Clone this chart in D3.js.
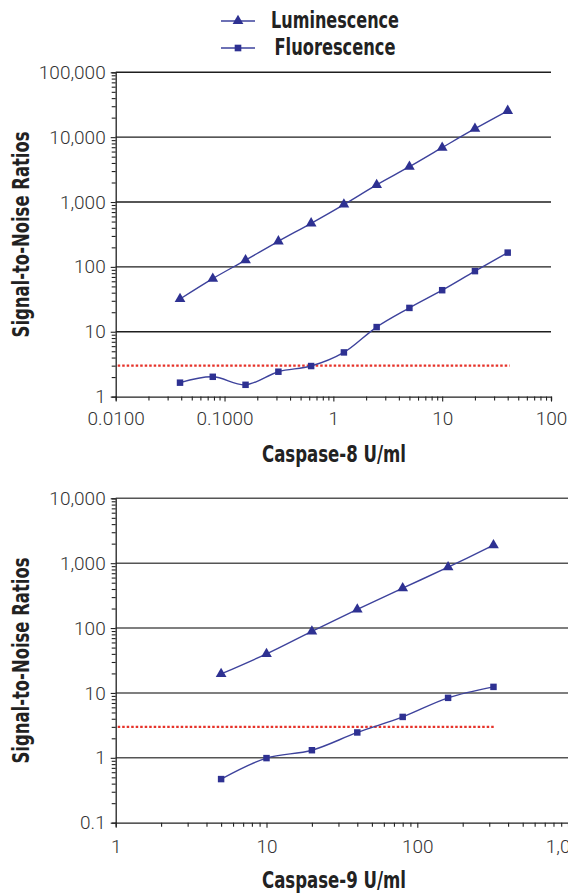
<!DOCTYPE html>
<html>
<head>
<meta charset="utf-8">
<script src="https://cdn.jsdelivr.net/npm/d3@7"></script>
<style>
  body { margin: 0; background: #fff; }
  .tick-label { font-family: Roboto, "Liberation Sans", sans-serif; font-weight: 300; font-size: 19px; fill: #333; }
  .title { font-family: "Liberation Sans Narrow", "DejaVu Sans Condensed", sans-serif; font-stretch: condensed; font-weight: bold; font-size: 23px; fill: #222; }
</style>
</head>
<body>
<script>
// caspase-8 panel
const c8Conc = [0.039, 0.078, 0.156, 0.3125, 0.625, 1.25, 2.5, 5, 10, 20, 40];
const c8Lum = [32, 66, 127, 248, 470, 915, 1840, 3500, 6900, 13500, 25500];
const c8Fluor = [1.64, 2.02, 1.52, 2.42, 2.96, 4.8, 11.8, 23.3, 43.7, 86, 166];
const c8XTicks = [0.01, 0.1, 1, 10, 100];
const c8XLabels = ['0.0100', '0.1000', '1', '10', '100'];
const c8YTicks = [1, 10, 100, 1000, 10000, 100000];
const c8YLabels = ['1', '10', '100', '1,000', '10,000', '100,000'];

// caspase-9 panel
const c9Conc = [5, 10, 20, 40, 80, 160, 320];
const c9Lum = [19.6, 40, 89, 194, 412, 868, 1890];
const c9Fluor = [0.47, 0.99, 1.31, 2.46, 4.27, 8.4, 12.4];
const c9XTicks = [1, 10, 100, 1000];
const c9XLabels = ['1', '10', '100', '1,000'];
const c9YTicks = [0.1, 1, 10, 100, 1000, 10000];
const c9YLabels = ['0.1', '1', '10', '100', '1,000', '10,000'];

const threshold = 3;
const seriesNames = ['Luminescence', 'Fluorescence'];

const blue = '#2e3192';
const lineBlue = '#3d429c';

const svg = d3.select('body').append('svg')
  .attr('width', 568)
  .attr('height', 893);

// legend
const legendWidths = [128, 121];
const legend = svg.append('g');
seriesNames.forEach((name, i) => {
  const y = 21 + i * 27;
  legend.append('line')
    .attr('x1', 221).attr('x2', 255)
    .attr('y1', y).attr('y2', y)
    .attr('stroke', lineBlue).attr('stroke-width', 1.3);
  legend.append('path')
    .attr('transform', `translate(238,${y})`)
    .attr('d', d3.symbol(i === 0 ? d3.symbolTriangle : d3.symbolSquare, i === 0 ? 50 : 44)())
    .attr('fill', blue);
  legend.append('text')
    .attr('class', 'title')
    .attr('x', 335).attr('y', y + 7)
    .attr('text-anchor', 'middle')
    .attr('textLength', legendWidths[i])
    .attr('lengthAdjust', 'spacingAndGlyphs')
    .text(name);
});

function minorTicks(domain) {
  const out = [];
  for (let d = domain[0]; d < domain[1] * 0.999; d *= 10) {
    for (let k = 2; k <= 9; k++) out.push(d * k);
  }
  return out;
}

function drawPanel({ xDomain, xRange, yDomain, yRange, xTicks, xLabels, yTicks, yLabels,
  conc, lum, fluor, gridColor, xTitle, titleY, labelY }) {
  const x = d3.scaleLog().domain(xDomain).range(xRange);
  const y = d3.scaleLog().domain(yDomain).range(yRange);
  const g = svg.append('g');

  // gridlines
  g.append('g')
    .selectAll('line')
    .data(yTicks.slice(1))
    .join('line')
    .attr('x1', xRange[0]).attr('x2', xRange[1])
    .attr('y1', d => y(d)).attr('y2', d => y(d))
    .attr('stroke', gridColor).attr('stroke-width', 1.4);

  // y axis
  const yMinor = g.append('g')
    .attr('transform', `translate(${xRange[0]},0)`)
    .call(d3.axisLeft(y).tickValues(minorTicks(yDomain)).tickSize(4).tickFormat(''));
  const yAxis = g.append('g')
    .attr('transform', `translate(${xRange[0]},0)`)
    .call(d3.axisLeft(y).tickValues(yTicks).tickSize(5).tickPadding(5)
      .tickFormat((d, i) => yLabels[i]));

  // x axis
  const xMinor = g.append('g')
    .attr('transform', `translate(0,${yRange[0]})`)
    .call(d3.axisBottom(x).tickValues(minorTicks(xDomain)).tickSize(4).tickFormat(''));
  const xAxis = g.append('g')
    .attr('transform', `translate(0,${yRange[0]})`)
    .call(d3.axisBottom(x).tickValues(xTicks).tickSize(5).tickPadding(10)
      .tickFormat((d, i) => xLabels[i]));

  [yMinor, yAxis, xMinor, xAxis].forEach(a => {
    a.select('.domain').attr('stroke', '#222').attr('stroke-width', 1.3);
    a.selectAll('.tick line').attr('stroke', '#222').attr('stroke-width', 1.1);
    a.selectAll('.tick text').attr('class', 'tick-label').attr('font-size', null).attr('font-family', null);
  });
  yAxis.select('.domain').remove();
  xAxis.select('.domain').remove();
  xAxis.selectAll('.tick text').attr('dy', null).attr('y', labelY);

  // threshold line
  g.append('line')
    .attr('x1', xRange[0] + 2).attr('x2', x(d3.max(conc)) + 2)
    .attr('y1', y(threshold)).attr('y2', y(threshold))
    .attr('stroke', '#e6332a').attr('stroke-width', 2.2)
    .attr('stroke-dasharray', '2.5,2');

  const line = d3.line()
    .x((d, i) => x(conc[i]))
    .y(d => y(d))
    .curve(d3.curveCatmullRom.alpha(0.5));

  [[lum, d3.symbolTriangle, 50], [fluor, d3.symbolSquare, 42]].forEach(([vals, sym, size]) => {
    g.append('path')
      .attr('d', line(vals))
      .attr('fill', 'none')
      .attr('stroke', lineBlue)
      .attr('stroke-width', 1.4);
    g.append('g')
      .selectAll('path')
      .data(vals)
      .join('path')
      .attr('transform', (d, i) => `translate(${x(conc[i])},${y(d)})`)
      .attr('d', d3.symbol(sym, size)())
      .attr('fill', blue);
  });

  // axis titles
  g.append('text')
    .attr('class', 'title')
    .attr('x', 334).attr('y', titleY)
    .attr('text-anchor', 'middle')
    .attr('textLength', 144)
    .attr('lengthAdjust', 'spacingAndGlyphs')
    .text(xTitle);
  g.append('text')
    .attr('class', 'title')
    .attr('transform', `translate(29,${(yRange[0] + yRange[1]) / 2}) rotate(-90)`)
    .attr('text-anchor', 'middle')
    .attr('textLength', 206)
    .attr('lengthAdjust', 'spacingAndGlyphs')
    .text('Signal-to-Noise Ratios');
}

drawPanel({
  xDomain: [0.01, 100], xRange: [115.7, 551],
  yDomain: [1, 100000], yRange: [396.6, 72.3],
  xTicks: c8XTicks, xLabels: c8XLabels, yTicks: c8YTicks, yLabels: c8YLabels,
  conc: c8Conc, lum: c8Lum, fluor: c8Fluor,
  gridColor: '#1e1e1e', xTitle: 'Caspase-8 U/ml', titleY: 462, labelY: 28
});

drawPanel({
  xDomain: [1, 1000], xRange: [115.7, 568.1],
  yDomain: [0.1, 10000], yRange: [822.7, 498.3],
  xTicks: c9XTicks, xLabels: c9XLabels, yTicks: c9YTicks, yLabels: c9YLabels,
  conc: c9Conc, lum: c9Lum, fluor: c9Fluor,
  gridColor: '#555', xTitle: 'Caspase-9 U/ml', titleY: 888, labelY: 30
});
</script>
</body>
</html>
